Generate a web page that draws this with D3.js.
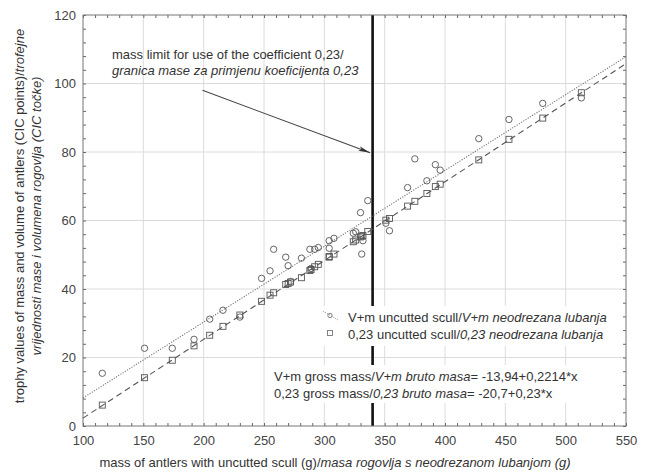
<!DOCTYPE html>
<html>
<head>
<meta charset="utf-8">
<script src="https://cdn.jsdelivr.net/npm/d3@7"></script>
<style>
  body { margin: 0; background: #fff; }
  svg { display: block; font-family: "Liberation Sans", Arial, sans-serif; }
</style>
</head>
<body>
<svg id="chart" width="647" height="475"></svg>
<script>
// Antler mass with uncut skull (g) for each trophy
const massG = [116, 151, 174, 192, 205, 216, 230, 248, 255, 258, 268, 270, 272, 281, 288, 289, 292, 295,
  304, 304, 308, 324, 326, 330, 331, 332, 336, 351, 354, 369, 375, 385, 392, 396, 428, 453, 481, 513];
// CIC points from mass + volume (V+m)
const vmPoints = [15.4, 22.7, 22.7, 25.3, 31.2, 33.8, 31.8, 43.1, 45.3, 51.6, 49.3, 46.8, 42.2, 49.0, 51.6, 46.0, 51.6, 52.1,
  54.1, 51.9, 54.8, 56.3, 56.7, 62.3, 50.2, 54.1, 65.8, 59.2, 57.0, 69.6, 78.0, 71.6, 76.3, 74.7, 83.9, 89.5, 94.2, 95.8];
// CIC points from the 0,23 coefficient
const coefPoints = [6.1, 14.1, 19.2, 23.4, 26.5, 29.1, 32.4, 36.4, 38.2, 38.9, 41.3, 41.6, 42.0, 43.3, 45.4, 45.7, 46.5, 47.2,
  49.3, 49.5, 50.2, 53.8, 54.3, 55.2, 55.4, 55.6, 56.8, 60.1, 60.6, 64.2, 65.6, 67.9, 69.9, 70.6, 77.7, 83.7, 89.9, 97.3];

const xTicks = [100, 150, 200, 250, 300, 350, 400, 450, 500, 550];
const yTicks = [0, 20, 40, 60, 80, 100, 120];

// Regression fits: [V+m, 0,23]
const fitIntercepts = [-13.94, -20.7];
const fitSlopes = [0.2214, 0.23];

const massLimit = 340;
const arrowFrom = [199, 98];
const arrowTo = [338, 79.8];

const svg = d3.select("#chart");
const W = 647, H = 475;
const m = { left: 83, right: 21, top: 15, bottom: 49 };
const x = d3.scaleLinear().domain([100, 550]).range([m.left, W - m.right]);
const y = d3.scaleLinear().domain([0, 120]).range([H - m.bottom, m.top]);

const textCol = "#333";
const gridCol = "#dcdcdc";

// grid
svg.append("g").selectAll("line").data(xTicks.slice(1, -1)).join("line")
  .attr("x1", d => x(d)).attr("x2", d => x(d))
  .attr("y1", y(120)).attr("y2", y(0))
  .attr("stroke", gridCol).attr("stroke-width", 1);
svg.append("g").selectAll("line").data(yTicks.slice(1, -1)).join("line")
  .attr("y1", d => y(d)).attr("y2", d => y(d))
  .attr("x1", x(100)).attr("x2", x(550))
  .attr("stroke", gridCol).attr("stroke-width", 1);

// inward ticks on all four sides
const tickStyle = g => g.call(s => s.select(".domain").remove())
  .call(s => s.selectAll(".tick line").attr("stroke", "#666"))
  .call(s => s.selectAll(".tick text").remove());
const xMinor = d3.range(100, 551, 10);
const yMinor = d3.range(0, 121, 4);
svg.append("g").attr("transform", `translate(0,${y(0)})`)
  .call(d3.axisTop(x).tickValues(xMinor).tickSize(3)).call(tickStyle);
svg.append("g").attr("transform", `translate(0,${y(120)})`)
  .call(d3.axisBottom(x).tickValues(xMinor).tickSize(3)).call(tickStyle);
svg.append("g").attr("transform", `translate(${x(100)},0)`)
  .call(d3.axisRight(y).tickValues(yMinor).tickSize(3)).call(tickStyle);
svg.append("g").attr("transform", `translate(${x(550)},0)`)
  .call(d3.axisLeft(y).tickValues(yMinor).tickSize(3)).call(tickStyle);

// tick labels
const xAxis = svg.append("g").attr("transform", `translate(0,${y(0)})`)
  .call(d3.axisBottom(x).tickValues(xTicks).tickSize(0).tickPadding(10));
xAxis.select(".domain").remove();
xAxis.selectAll("text").attr("font-size", 13).attr("fill", "#444")
  .attr("font-family", "Liberation Sans, Arial, sans-serif");
const yAxis = svg.append("g").attr("transform", `translate(${x(100)},0)`)
  .call(d3.axisLeft(y).tickValues(yTicks).tickSize(0).tickPadding(7));
yAxis.select(".domain").remove();
yAxis.selectAll("text").attr("font-size", 13).attr("fill", "#444")
  .attr("font-family", "Liberation Sans, Arial, sans-serif");

// mass limit line
svg.append("line")
  .attr("x1", x(massLimit)).attr("x2", x(massLimit))
  .attr("y1", y(120)).attr("y2", y(0))
  .attr("stroke", "#111").attr("stroke-width", 2.6);

// plot frame
svg.append("rect")
  .attr("x", x(100)).attr("y", y(120))
  .attr("width", x(550) - x(100)).attr("height", y(0) - y(120))
  .attr("fill", "none").attr("stroke", "#777").attr("stroke-width", 1);

// text helper with mixed upright / italic runs
function richText(parent, px, py, runs, anchor) {
  const t = parent.append("text").attr("x", px).attr("y", py)
    .attr("font-size", 13).attr("fill", textCol)
    .attr("text-anchor", anchor || "start");
  runs.forEach(([s, it]) => t.append("tspan").text(s).attr("font-style", it ? "italic" : "normal"));
  return t;
}

// legend and equation panels
svg.append("rect").attr("x", 318).attr("y", 306).attr("width", 296).attr("height", 40).attr("fill", "#fff");
svg.append("rect").attr("x", 270).attr("y", 365).attr("width", 330).attr("height", 38).attr("fill", "#fff");

const lg = svg.append("g");
lg.append("line").attr("x1", 323).attr("y1", 311).attr("x2", 338).attr("y2", 320)
  .attr("stroke", "#888").attr("stroke-width", 1).attr("stroke-dasharray", "1,1.3");
lg.append("circle").attr("cx", 330).attr("cy", 315.5).attr("r", 2.2)
  .attr("fill", "none").attr("stroke", "#777").attr("stroke-width", 0.9);
lg.append("rect").attr("x", 327.5).attr("y", 330.5).attr("width", 5).attr("height", 5)
  .attr("fill", "none").attr("stroke", "#777").attr("stroke-width", 0.9);
richText(lg, 348, 322, [["V+m uncutted scull/", false], ["V+m neodrezana lubanja", true]]);
richText(lg, 348, 339, [["0,23 uncutted scull/", false], ["0,23 neodrezana lubanja", true]]);

const fmt = v => String(v).replace(".", ",");
richText(svg, 274, 381, [["V+m gross mass/", false], ["V+m bruto masa", true],
  [`= ${fmt(fitIntercepts[0])}+${fmt(fitSlopes[0])}*x`, false]]);
richText(svg, 274, 398, [["0,23 gross mass/", false], ["0,23 bruto masa", true],
  [`= ${fmt(fitIntercepts[1])}+${fmt(fitSlopes[1])}*x`, false]]);

// annotation and arrow
richText(svg, 112, 59, [["mass limit for use of the coefficient 0,23/", false]]);
richText(svg, 112, 75, [["granica mase za primjenu koeficijenta 0,23", true]]);
svg.append("defs").append("marker").attr("id", "arrowHead")
  .attr("viewBox", "0 0 12 6").attr("refX", 12).attr("refY", 3)
  .attr("markerWidth", 12).attr("markerHeight", 6).attr("markerUnits", "userSpaceOnUse")
  .attr("orient", "auto")
  .append("path").attr("d", "M0,0.6 L12,3 L0,5.4 L3,3 Z").attr("fill", "#333");
svg.append("line")
  .attr("x1", x(arrowFrom[0])).attr("y1", y(arrowFrom[1]))
  .attr("x2", x(arrowTo[0])).attr("y2", y(arrowTo[1]))
  .attr("stroke", "#444").attr("stroke-width", 1.1).attr("marker-end", "url(#arrowHead)");

// regression lines
const plot = svg.append("g");
const lineStyles = [
  { stroke: "#777", width: 1.1, dash: "1.2,1.4" },
  { stroke: "#555", width: 1.1, dash: "6,4" }
];
fitIntercepts.forEach((b, i) => {
  const pts = [100, 550].map(v => [x(v), y(b + fitSlopes[i] * v)]);
  plot.append("path").attr("d", d3.line()(pts))
    .attr("fill", "none").attr("stroke", lineStyles[i].stroke)
    .attr("stroke-width", lineStyles[i].width).attr("stroke-dasharray", lineStyles[i].dash);
});

// data points
plot.append("g").selectAll("circle").data(massG).join("circle")
  .attr("cx", d => x(d)).attr("cy", (d, i) => y(vmPoints[i])).attr("r", 3.2)
  .attr("fill", "none").attr("stroke", "#555").attr("stroke-width", 0.9);
plot.append("g").selectAll("rect").data(massG).join("rect")
  .attr("x", d => x(d) - 3).attr("y", (d, i) => y(coefPoints[i]) - 3)
  .attr("width", 6).attr("height", 6)
  .attr("fill", "none").attr("stroke", "#555").attr("stroke-width", 0.9);

// axis titles
richText(svg, 335, 467, [["mass of antlers with uncutted scull (g)/", false],
  ["masa rogovlja s neodrezanom lubanjom (g)", true]], "middle");
const yt = svg.append("g").attr("transform", "translate(0,216) rotate(-90)");
richText(yt, 0, 24, [["trophy values of mass and volume of antlers (CIC points)/", false], ["trofejne", true]], "middle");
richText(yt, 0, 41, [["vrijednosti mase i volumena rogovlja (CIC točke)", true]], "middle");
</script>
</body>
</html>
